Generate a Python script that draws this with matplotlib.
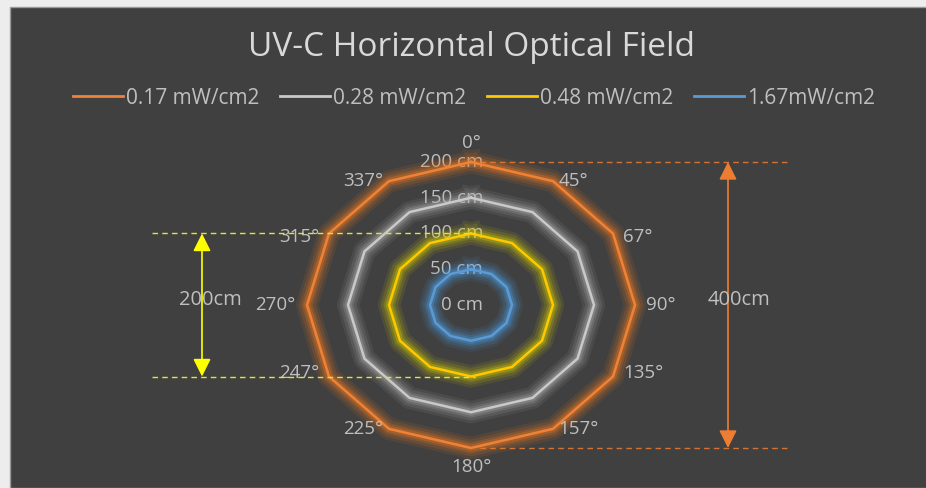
import numpy as np
import matplotlib
matplotlib.use('Agg')
import matplotlib.pyplot as plt
import matplotlib.patheffects as pe
from matplotlib.lines import Line2D
from matplotlib.patches import Rectangle, FancyArrowPatch
from matplotlib.transforms import ScaledTranslation

plt.rcParams['font.family'] = ['Open Sans', 'DejaVu Sans']

# measurement directions (radar categories)
angle_labels = ['0°', '45°', '67°', '90°', '135°', '157°',
                '180°', '225°', '247°', '270°', '315°', '337°']

# reach (cm) of each irradiance level in every direction
reach_017 = [200, 200, 200, 200, 200, 200, 200, 200, 200, 200, 200, 200]
reach_028 = [150, 150, 150, 150, 150, 150, 150, 150, 150, 150, 150, 150]
reach_048 = [100, 100, 100, 100, 100, 100, 100, 100, 100, 100, 100, 100]
reach_167 = [50, 50, 50, 50, 50, 50, 50, 50, 50, 50, 50, 50]

series_names = ['0.17 mW/cm2', '0.28 mW/cm2', '0.48 mW/cm2', '1.67mW/cm2']
series_colors = ['#F08236', '#C9C9C9', '#FFC800', '#5B9BD5']
glow_colors = ['#F07A20', '#B0B0B0', '#D8D000', '#4A9BE0']

radial_ticks = [0, 50, 100, 150, 200]

bg = '#404040'
txt = '#BFBFBF'
fs = 13.5

fig = plt.figure(figsize=(9.26, 4.88), dpi=100, facecolor='#EDEDED')
fig.patches.append(Rectangle((10 / 926, 0), 1, 481 / 488, transform=fig.transFigure,
                             facecolor=bg, edgecolor='#9A9A9A', lw=1, zorder=-5))

fig.text(471 / 926, 1 - 48 / 488, 'UV-C Horizontal Optical Field', ha='center', va='center',
         fontsize=24, color='#D9D9D9')

# radar axes (stretched horizontally like the exported chart)
ax = fig.add_axes([307 / 926, 40 / 488, 328 / 926, 286 / 488], projection='polar')
ax.set_aspect('auto')
ax.set_theta_zero_location('N')
ax.set_theta_direction(-1)
ax.set_ylim(0, 200)
ax.set_facecolor('none')
ax.grid(False)
ax.spines['polar'].set_visible(False)
ax.set_xticks([])
ax.set_yticks([])

theta = np.linspace(0, 2 * np.pi, len(angle_labels), endpoint=False)
theta_closed = np.append(theta, theta[0])

all_reach = [reach_017, reach_028, reach_048, reach_167]
for vals, c, g in zip(all_reach, series_colors, glow_colors):
    v = np.append(vals, vals[0])
    ax.plot(theta_closed, v, color=c, lw=1.8, zorder=3, clip_on=False,
            path_effects=[pe.Stroke(linewidth=16, foreground=g, alpha=0.10),
                          pe.Stroke(linewidth=12, foreground=g, alpha=0.14),
                          pe.Stroke(linewidth=8, foreground=g, alpha=0.20),
                          pe.Stroke(linewidth=5, foreground=g, alpha=0.30),
                          pe.Normal()])

# radial value labels along the 0° spoke
shift = ax.transData + ScaledTranslation(12 / 100, 0, fig.dpi_scale_trans)
for r in radial_ticks:
    ax.text(0, r, f'{r} cm', ha='right', va='center', fontsize=fs, color=txt,
            transform=shift, zorder=2)

# direction labels around the outside
for t, lab in zip(theta, angle_labels):
    deg = np.degrees(t)
    s, c = np.sin(t), np.cos(t)
    ha = 'left' if s > 0.1 else ('right' if s < -0.1 else 'center')
    if abs(c) < 0.1:
        va = 'center'
    elif deg == 0:
        va = 'bottom'
    elif abs(deg - 180) < 1:
        va = 'top'
    elif c > 0:
        va = 'top'
    else:
        va = 'bottom'
    ax.text(t, 214, lab, ha=ha, va=va, fontsize=fs, color=txt, clip_on=False)

# dimension markers
to_fig = fig.transFigure.inverted()


def fig_y(t, r):
    return to_fig.transform(ax.transData.transform((t, r)))[1]


y_o_top, y_o_bot = fig_y(0, reach_017[0]), fig_y(np.pi, reach_017[6])
y_y_top, y_y_bot = fig_y(0, reach_048[0]), fig_y(np.pi, reach_048[6])

for y in (y_o_top, y_o_bot):
    fig.add_artist(Line2D([480 / 926, 790 / 926], [y, y], color='#ED7D31', lw=1,
                          ls=(0, (4, 3)), alpha=0.85))
for y in (y_y_top, y_y_bot):
    fig.add_artist(Line2D([152 / 926, 475 / 926], [y, y], color='#E5E52E', lw=1,
                          ls=(0, (4, 3))))

fig.add_artist(FancyArrowPatch((728 / 926, y_o_top), (728 / 926, y_o_bot),
                               transform=fig.transFigure, color='#ED7D31', lw=1.2,
                               arrowstyle='<|-|>,head_length=0.9,head_width=0.45',
                               mutation_scale=12, shrinkA=0, shrinkB=0))
fig.add_artist(FancyArrowPatch((202 / 926, y_y_top), (202 / 926, y_y_bot),
                               transform=fig.transFigure, color='#FFFF00', lw=1.2,
                               arrowstyle='<|-|>,head_length=0.9,head_width=0.45',
                               mutation_scale=12, shrinkA=0, shrinkB=0))

fig.text(739 / 926, 1 - 300 / 488, '400cm', ha='center', va='center', fontsize=14.5,
         color=txt)
fig.text(210 / 926, 1 - 300 / 488, '200cm', ha='center', va='center', fontsize=14.5,
         color=txt)

handles = [Line2D([], [], color=c, lw=2) for c in series_colors]
fig.legend(handles, series_names, loc='center', bbox_to_anchor=(474 / 926, 1 - 98 / 488),
           ncol=4, frameon=False, fontsize=15, labelcolor=txt, handlelength=2.4,
           handletextpad=0.15, columnspacing=1.0)

fig.savefig('out.png', dpi=100, facecolor=fig.get_facecolor())
